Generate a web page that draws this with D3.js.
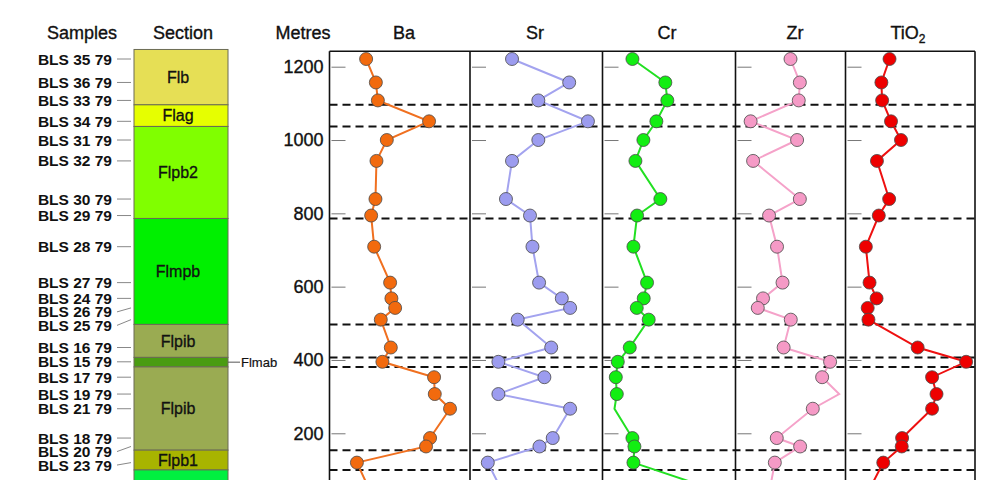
<!DOCTYPE html>
<html>
<head>
<meta charset="utf-8">
<script src="https://cdn.jsdelivr.net/npm/d3@7"></script>
<style>
  html, body { margin: 0; padding: 0; background: #fff; }
  svg { display: block; font-family: "Liberation Sans", Arial, Helvetica, sans-serif; }
</style>
</head>
<body>
<svg id="chart" width="983" height="480"></svg>
<script>
// Samples, top of section downwards, with their heights in metres
const samples = ["BLS 35 79","BLS 36 79","BLS 33 79","BLS 34 79","BLS 31 79","BLS 32 79",
  "BLS 30 79","BLS 29 79","BLS 28 79","BLS 27 79","BLS 24 79","BLS 26 79","BLS 25 79",
  "BLS 16 79","BLS 15 79","BLS 17 79","BLS 19 79","BLS 21 79","BLS 18 79","BLS 20 79",
  "BLS 23 79","BLS 22 79"];
const heights = [1221,1157,1108,1051,1000,943,839,794,709,611,568,542,510,434,395,353,307,267,187,164,120,40];

// Geochemistry per sample (ppm; TiO2 in wt%)
const baValues   = [365,462,482,992,571,468,458,415,445,604,617,654,511,611,527,1042,1049,1201,1002,962,273,409];
const srValues   = [222,524,361,623,361,222,190,317,330,365,485,529,252,429,150,393,150,529,437,367,94,172];
const crValues   = [90,189,195,162,123,99,174,104,93,134,124,103,139,82,46,40,43,36,90,96,93,356];
const zrValues   = [200,234,230,55,224,64,234,122,151,171,100,81,201,175,344,315,377,281,150,235,143,123];
const tio2Values = [1.19,0.97,0.99,1.23,1.50,0.85,1.18,0.90,0.55,0.65,0.84,0.60,0.62,1.95,3.26,2.34,2.46,2.34,1.53,1.52,1.02,0.61];

// Samples plotted on the line without a marker
const crNoMarker = ["BLS 21 79"];
const zrNoMarker = ["BLS 19 79"];

// Lithostratigraphic units (top, base in metres); the lowest unit is unnamed here
const unitNames = ["Flb","Flag","Flpb2","Flmpb","Flpib","Flmab","Flpib","Flpb1",""];
const unitTops  = [1247,1096,1037,786,497,407,381,154,100];
const unitBases = [1096,1037,786,497,407,381,154,100,0];
const unitColors = ["#e6df55","#e6ff00","#80ff00","#00f000","#9aab52","#4a9c12","#9aab52","#a8b400","#00f040"];

// Unit boundaries drawn as dashed lines across the panels
const boundaries = [1096,1037,786,497,407,381,154,100];

const metreTicks = [200,400,600,800,1000,1200];

const W = 983, H = 480;
const svg = d3.select("#chart");

// Shared vertical scale (metres)
const y = d3.scaleLinear().domain([0, 1200]).range([506.6, 66.7]);
const topMetres = 1242;

// Panels
const edges = [329.5, 470, 602.5, 735.5, 845.5, 975];
const panels = [
  { name: "Ba",  values: baValues,   domain: [0, 1400], line: "#f07020", fill: "#f26a0e", hide: [] },
  { name: "Sr",  values: srValues,   domain: [0, 700],  line: "#a3a3ef", fill: "#9c9cef", hide: [] },
  { name: "Cr",  values: crValues,   domain: [0, 400],  line: "#22e022", fill: "#12ee12", hide: crNoMarker },
  { name: "Zr",  values: zrValues,   domain: [0, 400],  line: "#f5a2c9", fill: "#f59ac6", hide: zrNoMarker },
  { name: "TiO2",values: tio2Values, domain: [0, 3.5],  line: "#ee1010", fill: "#ee0000", hide: [] }
];

// ---- Headers ----
const header = svg.append("g").attr("font-size", 18).attr("fill", "#111")
  .attr("stroke", "#111").attr("stroke-width", 0.35).attr("text-anchor", "middle");
header.append("text").attr("x", 82).attr("y", 39).text("Samples");
header.append("text").attr("x", 183).attr("y", 39).text("Section");
header.append("text").attr("x", 303).attr("y", 39).text("Metres");
const headerX = [404, 535, 667, 795, 908];
panels.forEach((p, i) => {
  const t = header.append("text").attr("x", headerX[i]).attr("y", 39);
  if (p.name === "TiO2") {
    t.append("tspan").text("TiO");
    t.append("tspan").attr("font-size", 12).attr("dy", 4).text("2");
  } else {
    t.text(p.name);
  }
});

// ---- Section column ----
const secX0 = 134, secX1 = 228;
const section = svg.append("g");
unitNames.forEach((n, i) => {
  section.append("rect")
    .attr("x", secX0).attr("y", y(unitTops[i]))
    .attr("width", secX1 - secX0).attr("height", y(unitBases[i]) - y(unitTops[i]))
    .attr("fill", unitColors[i]).attr("stroke", "#6b6b55").attr("stroke-width", 1);
});
unitNames.forEach((n, i) => {
  if (!n) return;
  if (n === "Flmab") {
    const cy = (y(unitTops[i]) + y(unitBases[i])) / 2;
    section.append("line").attr("x1", secX1).attr("x2", 240).attr("y1", cy).attr("y2", cy)
      .attr("stroke", "#555").attr("stroke-width", 1);
    section.append("text").attr("x", 241).attr("y", cy).attr("dy", "0.36em")
      .attr("font-size", 13).attr("fill", "#111").attr("stroke", "#111").attr("stroke-width", 0.2).text(n);
  } else {
    section.append("text")
      .attr("x", (secX0 + secX1) / 2 - 3)
      .attr("y", (y(unitTops[i]) + y(unitBases[i])) / 2)
      .attr("dy", "0.36em").attr("text-anchor", "middle")
      .attr("font-size", 16).attr("fill", "#111").attr("stroke", "#111").attr("stroke-width", 0.3).text(n);
  }
});

// ---- Sample labels with leaders (pushed down to avoid collisions) ----
const labelGap = 13.5;
const labelY = [];
heights.forEach((h, i) => {
  const py = y(h);
  labelY.push(i === 0 ? py : Math.max(py, labelY[i - 1] + labelGap));
});
const labels = svg.append("g");
samples.forEach((s, i) => {
  if (labelY[i] > H) return;
  labels.append("text").attr("x", 112).attr("y", labelY[i]).attr("dy", "0.36em")
    .attr("text-anchor", "end").attr("font-size", 15.5).attr("font-weight", "bold")
    .attr("fill", "#111").text(s);
  labels.append("line").attr("x1", 117).attr("x2", 131)
    .attr("y1", labelY[i]).attr("y2", y(heights[i]))
    .attr("stroke", "#888").attr("stroke-width", 1);
});

// ---- Metres axis labels ----
const yAxis = svg.append("g").attr("transform", `translate(${edges[0]},0)`)
  .call(d3.axisLeft(y).tickValues(metreTicks).tickSize(0).tickPadding(6).tickFormat(d3.format("d")));
yAxis.select(".domain").remove();
yAxis.selectAll("text").attr("font-size", 18).attr("fill", "#111")
  .attr("stroke", "#111").attr("stroke-width", 0.35)
  .attr("font-family", "'Liberation Sans', Arial, sans-serif");

// ---- Panels ----
const plot = svg.append("g");
panels.forEach((p, i) => {
  const x0 = edges[i];
  // inner ticks
  const tk = plot.append("g").attr("transform", `translate(${x0 + 2},0)`)
    .call(d3.axisRight(y).tickValues(metreTicks).tickSize(14).tickFormat(""));
  tk.select(".domain").remove();
  tk.selectAll("line").attr("stroke", "#777").attr("stroke-width", 1);
});

// dashed unit boundaries
plot.selectAll("line.bound").data(boundaries).join("line").attr("class", "bound")
  .attr("x1", edges[0]).attr("x2", edges[edges.length - 1])
  .attr("y1", d => y(d)).attr("y2", d => y(d))
  .attr("stroke", "#111").attr("stroke-width", 2).attr("stroke-dasharray", "8,5");

// panel frames
const frame = svg.append("g").attr("stroke", "#111").attr("stroke-width", 1.6).attr("fill", "none");
frame.append("line").attr("x1", edges[0]).attr("x2", edges[edges.length - 1])
  .attr("y1", y(topMetres)).attr("y2", y(topMetres));
edges.forEach(e => {
  frame.append("line").attr("x1", e).attr("x2", e).attr("y1", y(topMetres)).attr("y2", 520);
});

// series
panels.forEach((p, i) => {
  const x = d3.scaleLinear().domain(p.domain).range([edges[i], edges[i + 1]]);
  const g = svg.append("g");
  const pts = p.values.map((v, k) => ({ v, h: heights[k], s: samples[k] }));
  g.append("path").datum(pts)
    .attr("d", d3.line().x(d => x(d.v)).y(d => y(d.h)))
    .attr("fill", "none").attr("stroke", p.line).attr("stroke-width", 2);
  g.selectAll("circle").data(pts.filter(d => !p.hide.includes(d.s))).join("circle")
    .attr("cx", d => x(d.v)).attr("cy", d => y(d.h)).attr("r", 6.5)
    .attr("fill", p.fill).attr("stroke", "#4a4a4a").attr("stroke-opacity", 0.8).attr("stroke-width", 1);
});
</script>
</body>
</html>
